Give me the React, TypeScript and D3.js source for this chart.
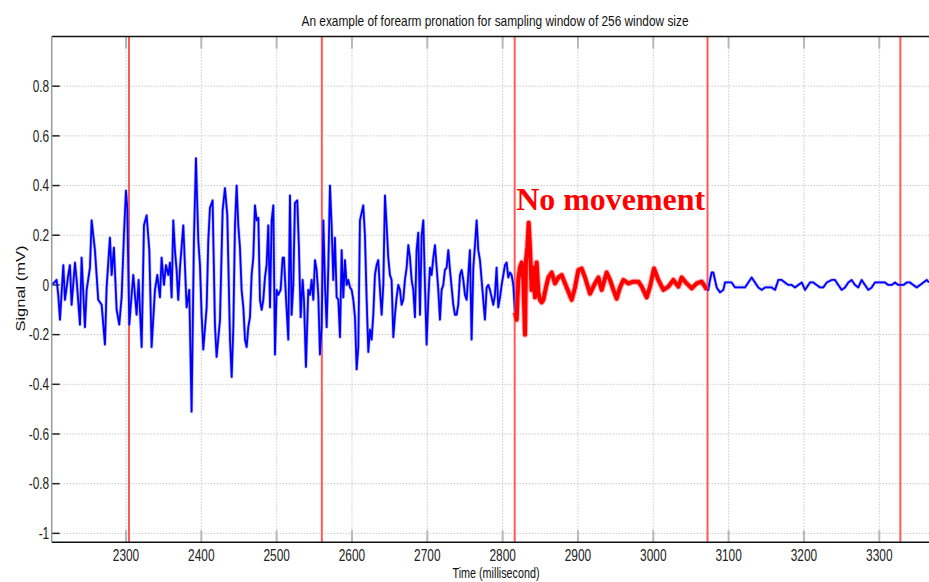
import { useEffect } from 'react'
import * as d3 from 'd3'

// EMG signal: [time (ms), signal (mV)]
const signalBefore: [number, number][] = [
  [2201.3, 0.0], [2205.0, 0.01], [2207.9, 0.02], [2210.1, -0.04], [2212.4, -0.14], [2216.8, 0.08], [2219.0, -0.06],
  [2223.4, 0.04], [2225.6, 0.08], [2227.8, -0.08], [2232.3, 0.09], [2234.5, 0.02], [2238.9, -0.16], [2241.1, 0.11],
  [2245.5, -0.17], [2247.8, -0.02], [2252.2, 0.07], [2254.4, 0.26], [2258.8, 0.14], [2263.2, -0.06], [2267.7, -0.08],
  [2272.1, -0.24], [2274.3, -0.01], [2278.7, 0.19], [2281.0, 0.04], [2284.0, 0.15], [2287.6, -0.1], [2291.1, -0.16],
  [2294.2, -0.05], [2297.3, 0.2], [2300.0, 0.38], [2301.7, 0.31], [2304.4, -0.16], [2307.5, -0.04], [2309.7, 0.04],
  [2314.1, -0.12], [2316.8, 0.02], [2320.8, -0.25], [2323.9, 0.24], [2327.4, 0.28], [2331.0, 0.14], [2334.0, -0.25],
  [2338.5, -0.02], [2341.6, 0.04], [2345.1, -0.05], [2347.3, 0.11], [2350.4, 0.0], [2353.1, 0.08], [2356.2, 0.04],
  [2358.4, 0.09], [2360.6, -0.05], [2362.8, 0.26], [2365.0, 0.14], [2367.2, 0.06], [2369.4, -0.06], [2371.7, 0.07],
  [2376.1, 0.24], [2380.5, -0.09], [2384.0, -0.02], [2387.1, -0.51], [2390.2, 0.18], [2392.9, 0.51], [2396.0, 0.18],
  [2398.2, 0.08], [2400.4, -0.12], [2402.6, -0.26], [2407.1, -0.09], [2409.3, 0.18], [2411.5, 0.31], [2415.0, 0.34],
  [2418.1, -0.16], [2420.3, -0.29], [2424.8, -0.14], [2428.3, 0.3], [2431.4, 0.39], [2434.5, 0.28], [2438.1, -0.22],
  [2440.3, -0.37], [2442.5, -0.17], [2444.7, 0.24], [2446.9, 0.4], [2449.1, 0.24], [2451.3, 0.15], [2453.5, -0.02],
  [2455.8, -0.09], [2458.0, -0.22], [2460.2, -0.25], [2462.4, -0.17], [2464.6, -0.13], [2466.8, 0.04], [2469.0, 0.11],
  [2471.2, 0.32], [2473.5, 0.26], [2475.7, 0.27], [2477.9, -0.06], [2480.1, -0.1], [2482.3, -0.06], [2484.5, 0.03],
  [2486.7, 0.08], [2488.9, 0.24], [2491.2, -0.09], [2493.4, 0.26], [2495.6, 0.32], [2497.8, -0.28], [2500.0, -0.02],
  [2502.2, -0.04], [2505.3, -0.02], [2508.0, 0.11], [2509.7, 0.11], [2512.4, -0.05], [2515.5, -0.22], [2517.7, 0.36],
  [2519.9, -0.12], [2522.1, 0.0], [2524.3, 0.33], [2527.4, 0.34], [2529.6, 0.15], [2531.9, -0.13], [2534.5, 0.02],
  [2536.3, -0.06], [2538.9, -0.33], [2542.0, -0.02], [2544.3, -0.04], [2546.5, 0.02], [2548.7, -0.06], [2550.9, 0.1],
  [2553.1, 0.06], [2555.3, -0.04], [2557.5, -0.28], [2559.7, -0.17], [2562.0, 0.26], [2564.2, 0.0], [2566.4, -0.17],
  [2568.6, 0.07], [2570.8, 0.4], [2573.0, 0.24], [2575.2, 0.02], [2577.4, 0.19], [2579.7, -0.05], [2581.9, -0.06],
  [2584.1, -0.21], [2586.3, 0.14], [2588.5, -0.05], [2590.7, 0.1], [2592.9, 0.0], [2595.1, 0.02], [2597.4, -0.01],
  [2599.6, -0.02], [2601.8, -0.06], [2604.0, -0.13], [2606.2, -0.34], [2608.4, -0.25], [2610.6, 0.26], [2615.0, 0.32],
  [2617.2, 0.2], [2619.5, -0.06], [2621.7, -0.27], [2623.9, -0.18], [2626.1, -0.22], [2628.3, -0.12], [2630.5, 0.04],
  [2632.7, 0.08], [2634.9, 0.1], [2637.2, -0.02], [2639.4, -0.12], [2641.6, 0.0], [2643.8, 0.36], [2646.0, 0.24],
  [2648.2, 0.11], [2650.4, 0.04], [2652.6, 0.02], [2654.9, -0.21], [2657.1, -0.12], [2659.3, -0.05], [2661.5, 0.0],
  [2663.7, -0.02], [2665.9, -0.08], [2668.1, -0.06], [2670.3, 0.02], [2672.6, 0.07], [2674.8, 0.16], [2677.0, 0.11],
  [2679.2, 0.02], [2681.4, -0.02], [2683.6, -0.13], [2685.8, 0.14], [2688.0, 0.21], [2690.3, -0.12], [2692.5, 0.2],
  [2694.7, 0.26], [2696.9, 0.0], [2699.1, -0.24], [2701.3, -0.06], [2703.5, 0.07], [2705.7, 0.04], [2708.0, 0.11],
  [2710.2, 0.16], [2712.4, 0.07], [2714.6, -0.02], [2716.8, -0.14], [2719.0, -0.02], [2721.2, 0.0], [2723.4, 0.06],
  [2725.7, 0.07], [2727.9, 0.14], [2730.1, 0.06], [2732.3, -0.01], [2734.5, -0.08], [2736.7, -0.12], [2738.9, -0.12],
  [2741.1, -0.08], [2743.4, 0.04], [2745.6, 0.06], [2747.8, 0.02], [2750.0, -0.04], [2752.2, -0.06], [2754.4, 0.04],
  [2756.6, 0.14], [2758.8, -0.22], [2761.1, 0.07], [2763.3, 0.16], [2765.5, 0.26], [2767.7, 0.14], [2769.9, 0.1],
  [2772.1, 0.02], [2774.3, -0.06], [2776.5, -0.14], [2778.8, -0.01], [2781.0, 0.0], [2783.2, -0.02], [2785.4, -0.05],
  [2787.6, -0.08], [2789.8, -0.04], [2792.0, 0.07], [2794.2, -0.09], [2796.5, -0.05], [2798.7, 0.0], [2800.9, 0.04],
  [2803.1, 0.08], [2805.3, 0.09], [2807.5, 0.03], [2809.7, 0.05], [2811.9, 0.04], [2814.2, 0.0], [2816.4, -0.11],
]

// the "no movement" window (highlighted in red)
const signalNoMove: [number, number][] = [
  [2816.4, -0.11], [2818.6, -0.14], [2820.8, 0.02], [2823.0, 0.07], [2825.3, 0.09], [2827.5, 0.02], [2829.7, -0.2],
  [2831.0, 0.1], [2832.8, 0.15], [2834.6, 0.25], [2836.3, 0.15], [2838.5, -0.02], [2840.7, 0.07], [2843.0, -0.05],
  [2845.2, 0.09], [2847.4, -0.03], [2849.6, -0.06], [2851.8, -0.07], [2854.1, -0.06], [2857.5, -0.01], [2860.7, 0.03],
  [2865.1, 0.05], [2869.5, 0.006], [2874.0, 0.03], [2878.4, 0.04], [2885.0, -0.01], [2891.7, -0.06], [2896.1, -0.01],
  [2900.5, 0.06], [2904.9, 0.066], [2909.4, 0.03], [2916.0, -0.035], [2922.6, 0.006], [2927.1, 0.03], [2931.5, -0.02],
  [2938.1, 0.05], [2942.6, 0.02], [2947.0, -0.02], [2951.4, -0.055], [2955.8, -0.01], [2960.3, 0.02], [2966.9, 0.006],
  [2973.5, 0.013], [2980.2, 0.013], [2984.6, -0.007], [2991.2, -0.05], [2995.7, -0.007], [3001.0, 0.066],
  [3006.7, 0.02], [3013.4, -0.02], [3020.0, -0.007], [3026.6, 0.02], [3033.3, -0.007], [3037.7, 0.03],
  [3044.3, 0.006], [3051.0, -0.014], [3057.6, 0.006], [3064.2, 0.013], [3068.7, -0.007], [3070.9, -0.02],
]

const signalAfter: [number, number][] = [
  [3070.9, -0.02], [3073.1, -0.02], [3075.3, 0.02], [3077.5, 0.05], [3079.7, 0.05], [3081.9, 0.02], [3084.1, -0.01],
  [3088.6, -0.03], [3093.0, -0.02], [3095.2, 0.01], [3099.6, 0.01], [3104.0, 0.01], [3108.5, -0.01], [3112.9, -0.01],
  [3117.3, -0.01], [3121.7, -0.01], [3126.2, 0.01], [3130.6, 0.03], [3135.0, 0.01], [3139.4, -0.01], [3143.9, -0.02],
  [3148.3, -0.01], [3152.7, -0.01], [3157.1, -0.01], [3161.6, -0.02], [3166.0, 0.02], [3170.4, 0.02], [3174.8, 0.01],
  [3179.3, 0.0], [3183.7, 0.0], [3188.1, -0.01], [3192.5, 0.0], [3197.0, 0.01], [3201.4, -0.02], [3203.6, -0.01],
  [3208.0, 0.01], [3212.5, 0.01], [3216.9, 0.0], [3221.3, -0.01], [3225.7, -0.01], [3230.2, 0.01], [3236.8, 0.02],
  [3241.2, 0.02], [3245.6, 0.0], [3250.1, -0.02], [3254.5, -0.01], [3258.9, 0.01], [3263.3, 0.02], [3267.8, 0.0],
  [3272.2, -0.01], [3276.6, 0.02], [3281.0, 0.0], [3285.5, -0.02], [3289.9, -0.01], [3294.3, 0.01], [3298.7, 0.01],
  [3303.2, 0.01], [3307.6, 0.01], [3312.0, 0.0], [3316.4, 0.0], [3320.9, 0.01], [3325.3, 0.0], [3332.0, 0.0],
  [3336.4, 0.01], [3340.8, 0.01], [3345.2, 0.0], [3349.6, -0.01], [3354.1, 0.0], [3358.5, 0.01], [3362.9, 0.02],
  [3366.0, 0.01],
]

// window boundaries, 256 ms apart
const windowEdges = [2304, 2560, 2816, 3072, 3328]
const xTicks = [2300, 2400, 2500, 2600, 2700, 2800, 2900, 3000, 3100, 3200, 3300]
const yTicks = [0.8, 0.6, 0.4, 0.2, 0, -0.2, -0.4, -0.6, -0.8, -1]

const W = 929
const H = 582
const left = 51.7
const top = 36.5
const bottom = 542.3

export default function App() {
  useEffect(() => {
    document.body.style.margin = '0'
  }, [])

  const x = d3.scaleLinear().domain([2201.4, 3366]).range([left, W])
  const y = d3.scaleLinear().domain([-1.036, 1]).range([bottom, top])

  const line = d3.line<[number, number]>()
    .x((d) => x(d[0]))
    .y((d) => y(d[1]))

  const font = 'Liberation Sans, Arial, sans-serif'
  const squeeze = 0.72

  return (
    <svg width={W} height={H} style={{ display: 'block', background: '#fff' }}>
      {/* grid */}
      {xTicks.map((t) => (
        <line key={'gx' + t} x1={x(t)} x2={x(t)} y1={top} y2={bottom}
          stroke="#b0b0b0" strokeWidth={1} strokeDasharray="1,2" />
      ))}
      {yTicks.map((t) => (
        <line key={'gy' + t} x1={left} x2={W} y1={y(t)} y2={y(t)}
          stroke="#b0b0b0" strokeWidth={1} strokeDasharray="1,2" />
      ))}

      {/* x ticks, top and bottom */}
      {xTicks.map((t) => (
        <g key={'tx' + t} stroke="#b8b8b8" strokeWidth={2}>
          <line x1={x(t)} x2={x(t)} y1={bottom} y2={bottom - 12} />
          <line x1={x(t)} x2={x(t)} y1={top} y2={top + 12} />
        </g>
      ))}
      {/* y ticks */}
      {yTicks.map((t) => (
        <line key={'ty' + t} x1={left} x2={left + 8} y1={y(t)} y2={y(t)} stroke="#222" strokeWidth={1.5} />
      ))}

      {/* window edges */}
      {windowEdges.map((t) => (
        <line key={'w' + t} x1={x(t)} x2={x(t)} y1={top} y2={bottom} stroke="#ff5a5a" strokeWidth={2} />
      ))}

      {/* signal: soft halo then the line itself */}
      {[signalBefore, signalAfter].map((s, i) => (
        <g key={'b' + i} fill="none" strokeLinejoin="round">
          <path d={line(s) ?? ''} stroke="#7f7fff" strokeWidth={3.2} opacity={0.55} />
          <path d={line(s) ?? ''} stroke="#0000ff" strokeWidth={1.8} />
        </g>
      ))}
      <g fill="none" strokeLinejoin="round">
        <path d={line(signalNoMove) ?? ''} stroke="#ff6a6a" strokeWidth={6} opacity={0.6} />
        <path d={line(signalNoMove) ?? ''} stroke="#ff0000" strokeWidth={4} />
      </g>

      {/* frame */}
      <line x1={left} x2={W} y1={top} y2={top} stroke="#111" strokeWidth={1.5} />
      <line x1={left} x2={W} y1={bottom} y2={bottom} stroke="#111" strokeWidth={1.5} />
      <line x1={left} x2={left} y1={top} y2={bottom} stroke="#999" strokeWidth={1.5} />

      {/* tick labels */}
      {xTicks.map((t) => (
        <text key={'lx' + t} transform={`translate(${x(t)},561) scale(${squeeze},1)`}
          textAnchor="middle" fontFamily={font} fontSize={16.5} fill="#222">{t}</text>
      ))}
      {yTicks.map((t) => (
        <text key={'ly' + t} transform={`translate(${left - 2.5},${y(t) + 5.8}) scale(${squeeze},1)`}
          textAnchor="end" fontFamily={font} fontSize={16.5} fill="#222">{t}</text>
      ))}

      {/* title and axis labels */}
      <text x={495} y={25.5} textAnchor="middle" fontFamily={font} fontSize={15}
        textLength={387} lengthAdjust="spacingAndGlyphs" fill="#111">
        An example of forearm pronation for sampling window of 256 window size
      </text>
      <text transform={`translate(496,577.5) scale(${squeeze},1)`} textAnchor="middle"
        fontFamily={font} fontSize={15} fill="#111">Time (millisecond)</text>
      <text transform={`translate(25,288.5) scale(${squeeze},1) rotate(-90)`} textAnchor="middle"
        fontFamily={font} fontSize={16.5} fill="#111">Signal (mV)</text>

      <text x={x(2818)} y={210} fontFamily="Liberation Serif, Times New Roman, serif" fontWeight="bold"
        fontSize={31} fill="#ff0000" textLength={189} lengthAdjust="spacingAndGlyphs">No movement</text>
    </svg>
  )
}
